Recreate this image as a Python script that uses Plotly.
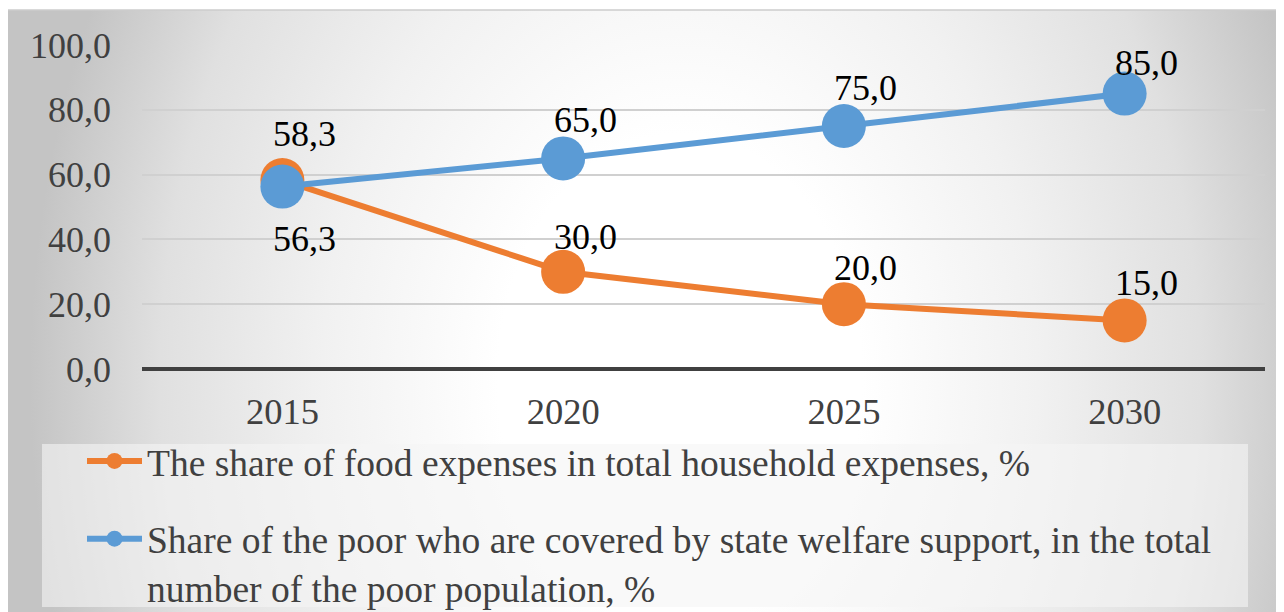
import base64
import plotly.graph_objects as go

years = ["2015", "2020", "2025", "2030"]
food_share = [58.3, 30.0, 20.0, 15.0]
poor_covered = [56.3, 65.0, 75.0, 85.0]
name_food = "The share of food expenses in total household expenses, %"
name_poor = ("Share of the poor who are covered by state welfare support, in the total"
             "<br>number of the poor population, %")
y_ticks = [0, 20, 40, 60, 80, 100]

ORANGE = "#ED7D31"
BLUE = "#5B9BD5"
FONT = "Liberation Serif, Times New Roman, serif"

OFF = 8  # page body margin: screen coords = figure coords + 8
W, H = 1276, 604
L, R, T, B = 134, 19, 37, 243
pw, ph = W - L - R, H - T - B


def px_x(p):
    p -= OFF
    return (p - L) / pw


def px_y(p):
    p -= OFF
    return (H - B - p) / ph


cx, cy = 680 - 8, 380 - 10
svg = (
    '<svg xmlns="http://www.w3.org/2000/svg" width="1276" height="602" viewBox="0 0 1276 602" preserveAspectRatio="none">'
    f'<defs><radialGradient id="g" gradientUnits="userSpaceOnUse" cx="{cx}" cy="{cy}" r="650" '
    f'gradientTransform="translate({cx},{cy}) scale(1,1.35) translate({-cx},{-cy})">'
    '<stop offset="0" stop-color="#ffffff"/>'
    '<stop offset="0.28" stop-color="#ffffff"/>'
    '<stop offset="0.55" stop-color="#f1f1f1"/>'
    '<stop offset="0.8" stop-color="#e0e0e0"/>'
    '<stop offset="1" stop-color="#c4c4c4"/>'
    '</radialGradient></defs>'
    '<rect x="0" y="0" width="1276" height="602" fill="url(#g)"/>'
    '</svg>'
)
svg_uri = "data:image/svg+xml;base64," + base64.b64encode(svg.encode()).decode()

fig = go.Figure()
fig.add_trace(go.Scatter(
    x=years, y=food_share, name=name_food, mode="lines+markers",
    line=dict(color=ORANGE, width=6), marker=dict(color=ORANGE, size=44),
    legendgroup="a",
))
fig.add_trace(go.Scatter(
    x=years, y=poor_covered, name=name_poor, mode="lines+markers",
    line=dict(color=BLUE, width=6), marker=dict(color=BLUE, size=44),
    legendgroup="b",
))


def fmt(v):
    return f"{v:.1f}".replace(".", ",")


food_shift = [46, 35, 36, 37]
poor_shift = [-52, 38, 38, 31]
annotations = []
for i, (v, s) in enumerate(zip(food_share, food_shift)):
    annotations.append(dict(x=i, y=v, xref="x", yref="y", text=fmt(v), showarrow=False,
                            xshift=22, yshift=s,
                            font=dict(family=FONT, size=36, color="#000000")))
for i, (v, s) in enumerate(zip(poor_covered, poor_shift)):
    annotations.append(dict(x=i, y=v, xref="x", yref="y", text=fmt(v), showarrow=False,
                            xshift=22, yshift=s,
                            font=dict(family=FONT, size=36, color="#000000")))

fig.update_layout(
    width=W, height=H,
    margin=dict(l=L, r=R, t=T, b=B, autoexpand=False),
    paper_bgcolor="#ffffff",
    plot_bgcolor="rgba(0,0,0,0)",
    font=dict(family=FONT, size=36, color="#404040"),
    showlegend=True,
    legend=dict(
        x=px_x(82), y=px_y(430), xanchor="left", yanchor="top",
        bgcolor="rgba(0,0,0,0)", font=dict(family=FONT, size=37.5, color="#404040"),
        itemwidth=55, tracegroupgap=26, valign="top",
    ),
    images=[dict(source=svg_uri, xref="paper", yref="paper",
                 x=px_x(8), y=px_y(10), sizex=1276 / pw, sizey=602 / ph,
                 xanchor="left", yanchor="top", sizing="stretch", layer="below")],
    shapes=[
        dict(type="rect", xref="paper", yref="paper",
             x0=px_x(42), x1=px_x(1248), y0=px_y(607), y1=px_y(444),
             fillcolor="rgba(245,245,245,0.6)", line=dict(width=0), layer="below"),
        dict(type="line", xref="paper", yref="paper",
             x0=px_x(8), x1=px_x(1284), y0=px_y(10), y1=px_y(10),
             line=dict(color="#cccccc", width=1.5)),
    ],
    annotations=annotations,
    xaxis=dict(type="category", range=[-0.5, 3.5], showgrid=False, zeroline=False,
               showline=False, ticks="", ticklabelstandoff=17,
               tickfont=dict(family=FONT, size=36.5, color="#404040")),
    yaxis=dict(range=[0, 100], tickvals=y_ticks,
               ticktext=[fmt(v) for v in y_ticks],
               showgrid=True, gridcolor="#d0d0d0", gridwidth=1.5,
               zeroline=True, zerolinecolor="#404040", zerolinewidth=3.5,
               showline=False, ticks="", ticklabelstandoff=30,
               tickfont=dict(family=FONT, size=36, color="#404040")),
)

fig.write_html("out.html")
